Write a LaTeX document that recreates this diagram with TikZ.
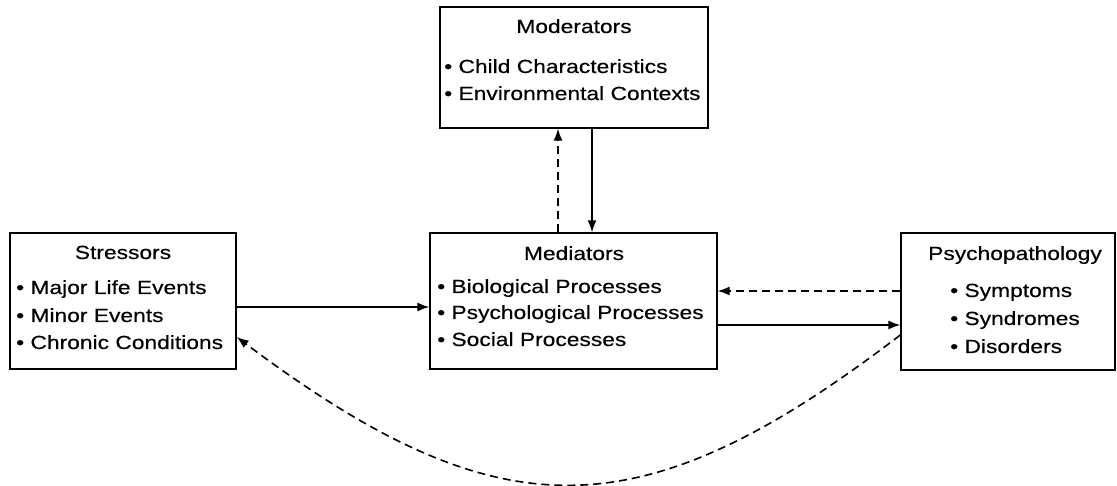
\documentclass[tikz,border=0pt]{standalone}
\usepackage{fontspec}
\setmainfont{Liberation Sans}[FakeStretch=1.2,FakeBold=0.4]
\usetikzlibrary{arrows.meta}
\begin{document}
\begin{tikzpicture}[x=1pt,y=-1pt,
  box/.style={draw,line width=1.3pt,inner sep=0pt},
  txt/.style={inner sep=0pt,font=\fontsize{19}{21}\selectfont},
  title/.style={txt,anchor=base},
  item/.style={txt,anchor=base west},
  conn/.style={line width=1.6pt,-{Latex[length=12pt,width=9pt]}},
  dconn/.style={conn,dash pattern=on 8pt off 5pt}]
\useasboundingbox (0,0) rectangle (1117,486);
% boxes
\node[box,minimum width=268pt,minimum height=121pt] (mod) at (574,67.5) {};
\node[box,minimum width=226pt,minimum height=136pt] (str) at (123,301) {};
\node[box,minimum width=287pt,minimum height=136pt] (med) at (573.5,301) {};
\node[box,minimum width=214pt,minimum height=137pt] (psy) at (1008,301.5) {};
% texts
\node[title] (modt) at (574,33) {Moderators};
\node[item] (mod1) at (444,73) {• Child Characteristics};
\node[item] (mod2) at (444,100) {• Environmental Contexts};
\node[title] (strt) at (123,259) {Stressors};
\node[item] (str1) at (16,294) {• Major Life Events};
\node[item] (str2) at (16,322) {• Minor Events};
\node[item] (str3) at (16,349) {• Chronic Conditions};
\node[title] (medt) at (574,260) {Mediators};
\node[item] (med1) at (437,293) {• Biological Processes};
\node[item] (med2) at (437,319) {• Psychological Processes};
\node[item] (med3) at (437,346) {• Social Processes};
\node[title] (psyt) at (1015,260) {Psychopathology};
\node[item] (psy1) at (950,297) {• Symptoms};
\node[item] (psy2) at (950,325) {• Syndromes};
\node[item] (psy3) at (950,353) {• Disorders};
% connectors
\draw[conn] (mod.south -| 592,0) -- (med.north -| 592,0);
\draw[dconn] (med.north -| 558,0) -- (mod.south -| 558,0);
\draw[conn] (str.east |- 0,307) -- (med.west |- 0,307);
\draw[dconn] (psy.west |- 0,291) -- (med.east |- 0,291);
\draw[conn] (med.east |- 0,325) -- (psy.west |- 0,325);
\draw[dconn] (psy.west |- 0,335) .. controls (640,534) and (500,534) .. (str.east |- 0,337);
\end{tikzpicture}
\end{document}
